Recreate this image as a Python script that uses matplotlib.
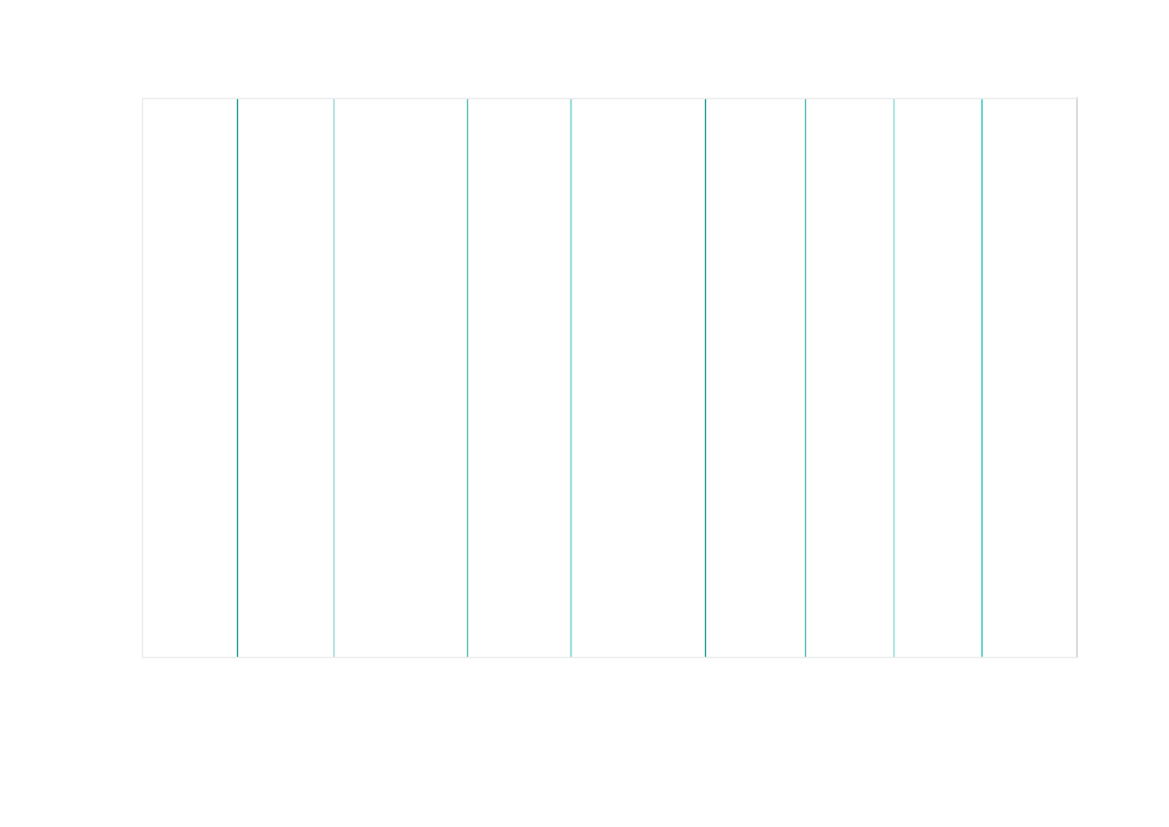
import matplotlib
matplotlib.use("Agg")
import matplotlib.pyplot as plt

# positions of the markers along the axis (0..100)
positions = [10.2, 20.55, 34.8, 45.85, 60.25, 70.95, 80.45, 89.85]
colors = ["#1f9b8f", "#a9e2dd", "#5dc0b6", "#9fe0dc", "#1f9b8f", "#52bdb3", "#9fe4e1", "#4fcfc9"]
widths = [1.0, 1.2, 1.0, 1.6, 1.0, 1.0, 1.2, 1.2]

fig = plt.figure(figsize=(11.69, 8.27), dpi=100)
ax = fig.add_axes([142 / 1169, 170 / 827, 935 / 1169, 559 / 827])

for x, c, w in zip(positions, colors, widths):
    ax.axvline(x, color=c, linewidth=w)

ax.set_xlim(0, 100)
ax.set_ylim(0, 1)
ax.set_xticks([])
ax.set_yticks([])
for side in ["top", "bottom", "left"]:
    ax.spines[side].set_color("#ececec")
    ax.spines[side].set_linewidth(1.0)
ax.spines["right"].set_color("#dcdcdc")
ax.spines["right"].set_linewidth(1.5)

plt.savefig("out.png", dpi=100)
